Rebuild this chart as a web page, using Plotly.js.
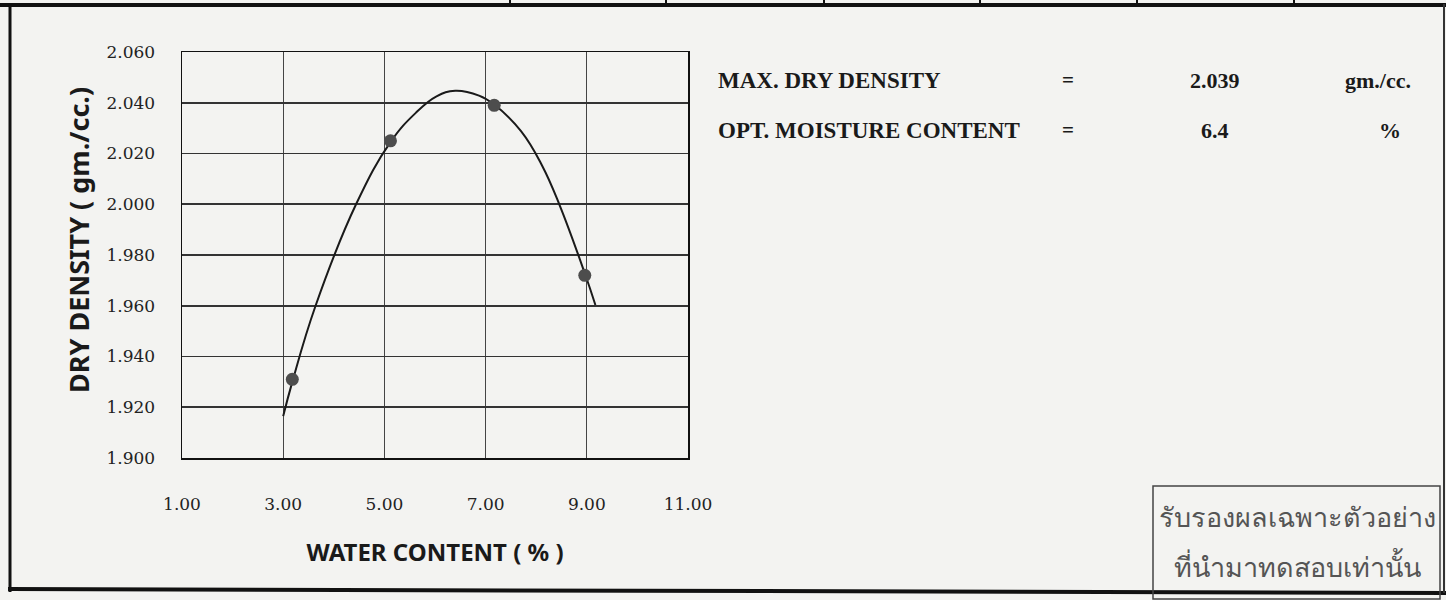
<!DOCTYPE html>
<html>
<head>
<meta charset="utf-8">
<script src="https://cdn.plot.ly/plotly-3.0.1.min.js"></script>
<style>html,body{margin:0;padding:0;background:#f3f3f1;}#chart{width:1446px;height:600px;}</style>
</head>
<body>
<div id="chart"></div>
<script>
// Measured test points
const waterContent = [3.18, 5.12, 7.17, 8.96];
const dryDensity = [1.931, 2.025, 2.039, 1.972];
// Fitted compaction curve
const curveWater = [3.00, 3.18, 3.64, 4.44, 5.12, 5.62, 6.03, 6.40, 6.87, 7.17, 7.70, 8.11, 8.46, 8.96, 9.17];
const curveDensity = [1.9165, 1.9300, 1.9600, 2.0000, 2.0245, 2.0360, 2.0425, 2.0447, 2.0428, 2.0393, 2.0288, 2.0155, 1.9998, 1.9728, 1.9603];
// Tick labels
const xTicks = [1, 3, 5, 7, 9, 11];
const xTickText = ["1.00", "3.00", "5.00", "7.00", "9.00", "11.00"];
const yTicks = [1.90, 1.92, 1.94, 1.96, 1.98, 2.00, 2.02, 2.04, 2.06];
const yTickText = ["1.900", "1.920", "1.940", "1.960", "1.980", "2.000", "2.020", "2.040", "2.060"];
// Result texts
const resultLabels = ["MAX. DRY DENSITY", "OPT. MOISTURE CONTENT"];
const resultValues = ["2.039", "6.4"];
const resultUnits = ["gm./cc.", "%"];
const stampLines = ["รับรองผลเฉพาะตัวอย่าง", "ที่นำมาทดสอบเท่านั้น"];

const W = 1446, H = 600;
const L = 182, R = 688, T = 52, B = 458;
const px = x => (x - L) / (R - L);
const py = y => (B - y) / (B - T);

const traces = [
  {x: curveWater, y: curveDensity, type: 'scatter', mode: 'lines',
   line: {color: '#1a1a1a', width: 2, shape: 'spline', smoothing: 1.2}, hoverinfo: 'skip', showlegend: false},
  {x: waterContent, y: dryDensity, type: 'scatter', mode: 'markers',
   marker: {color: '#4d4d4d', size: 13, line: {width: 0}}, showlegend: false}
];

const serif = '"Liberation Serif", "Times New Roman", serif';
const tickFont = {family: '"DejaVu Serif", serif', size: 17, color: '#222'};

const annotations = [
  {xref: 'paper', yref: 'paper', x: px(78), y: py(240), text: 'DRY DENSITY ( gm./cc.)', textangle: -90,
   showarrow: false, xanchor: 'center', yanchor: 'middle',
   font: {family: '"Noto Sans", sans-serif', size: 27, color: '#1a1a1a', weight: 'bold'}}
];
const rowY = [80, 130];
for (let i = 0; i < resultLabels.length; i++) {
  annotations.push({xref: 'paper', yref: 'paper', x: px(716), y: py(rowY[i]), text: '<b>' + resultLabels[i] + '</b>',
    showarrow: false, xanchor: 'left', yanchor: 'middle', font: {family: serif, size: 23, color: '#1a1a1a'}});
  annotations.push({xref: 'paper', yref: 'paper', x: px(1068), y: py(rowY[i]), text: '<b>=</b>',
    showarrow: false, xanchor: 'center', yanchor: 'middle', font: {family: serif, size: 21, color: '#1a1a1a'}});
  annotations.push({xref: 'paper', yref: 'paper', x: px(1215), y: py(rowY[i]), text: '<b>' + resultValues[i] + '</b>',
    showarrow: false, xanchor: 'center', yanchor: 'middle', font: {family: serif, size: 22, color: '#1a1a1a'}});
  annotations.push({xref: 'paper', yref: 'paper', x: px(i === 0 ? 1378 : 1390), y: py(rowY[i]), text: '<b>' + resultUnits[i] + '</b>',
    showarrow: false, xanchor: 'center', yanchor: 'middle', font: {family: serif, size: 22, color: '#1a1a1a'}});
}
annotations.push({xref: 'paper', yref: 'paper', x: px(1297), y: py(516), text: stampLines[0],
  showarrow: false, xanchor: 'center', yanchor: 'middle', font: {family: '"Noto Sans", sans-serif', size: 27, color: '#555'}});
annotations.push({xref: 'paper', yref: 'paper', x: px(1297), y: py(566), text: stampLines[1],
  showarrow: false, xanchor: 'center', yanchor: 'middle', font: {family: '"Noto Sans", sans-serif', size: 27, color: '#555'}});

const line = (x0, y0, x1, y1, w, c) => ({type: 'line', xref: 'paper', yref: 'paper',
  x0: px(x0), y0: py(y0), x1: px(x1), y1: py(y1), line: {color: c || '#111', width: w}});
const shapes = [
  line(0, 5, W, 5, 4),
  line(10, 4, 10, 592, 3),
  line(8, 589, 1446, 593, 4),
  line(1444, 4, 1444, 593, 2, '#333'),
  line(510, 0, 510, 5, 2), line(666, 0, 666, 5, 2), line(824, 0, 824, 5, 2),
  line(980, 0, 980, 5, 2), line(1137, 0, 1137, 5, 2), line(1294, 0, 1294, 5, 2),
  {type: 'rect', xref: 'paper', yref: 'paper', x0: px(1153), y0: py(486), x1: px(1440), y1: py(599),
   line: {color: '#444', width: 1.5}, fillcolor: 'rgba(0,0,0,0)'}
];

const layout = {
  width: W, height: H,
  margin: {l: L, r: W - R, t: T, b: H - B},
  paper_bgcolor: '#f3f3f1', plot_bgcolor: '#f3f3f1',
  showlegend: false,
  xaxis: {range: [1, 11], tickvals: xTicks, ticktext: xTickText, showgrid: true, gridcolor: '#444', gridwidth: 1,
    zeroline: false, showline: true, linecolor: '#111', linewidth: 1.5, mirror: true,
    ticks: 'outside', ticklen: 30, tickcolor: 'rgba(0,0,0,0)', tickfont: tickFont,
    title: {text: 'WATER CONTENT ( % )', standoff: 31,
      font: {family: '"Noto Sans", sans-serif', size: 24, color: '#1a1a1a', weight: 'bold'}}},
  yaxis: {range: [1.9, 2.06], tickvals: yTicks, ticktext: yTickText, showgrid: true, gridcolor: '#333', gridwidth: 1.6,
    zeroline: false, showline: true, linecolor: '#111', linewidth: 1.5, mirror: true,
    ticks: 'outside', ticklen: 22, tickcolor: 'rgba(0,0,0,0)', tickfont: tickFont},
  annotations: annotations,
  shapes: shapes
};

Plotly.newPlot('chart', traces, layout, {displayModeBar: false, staticPlot: true});
</script>
</body>
</html>
